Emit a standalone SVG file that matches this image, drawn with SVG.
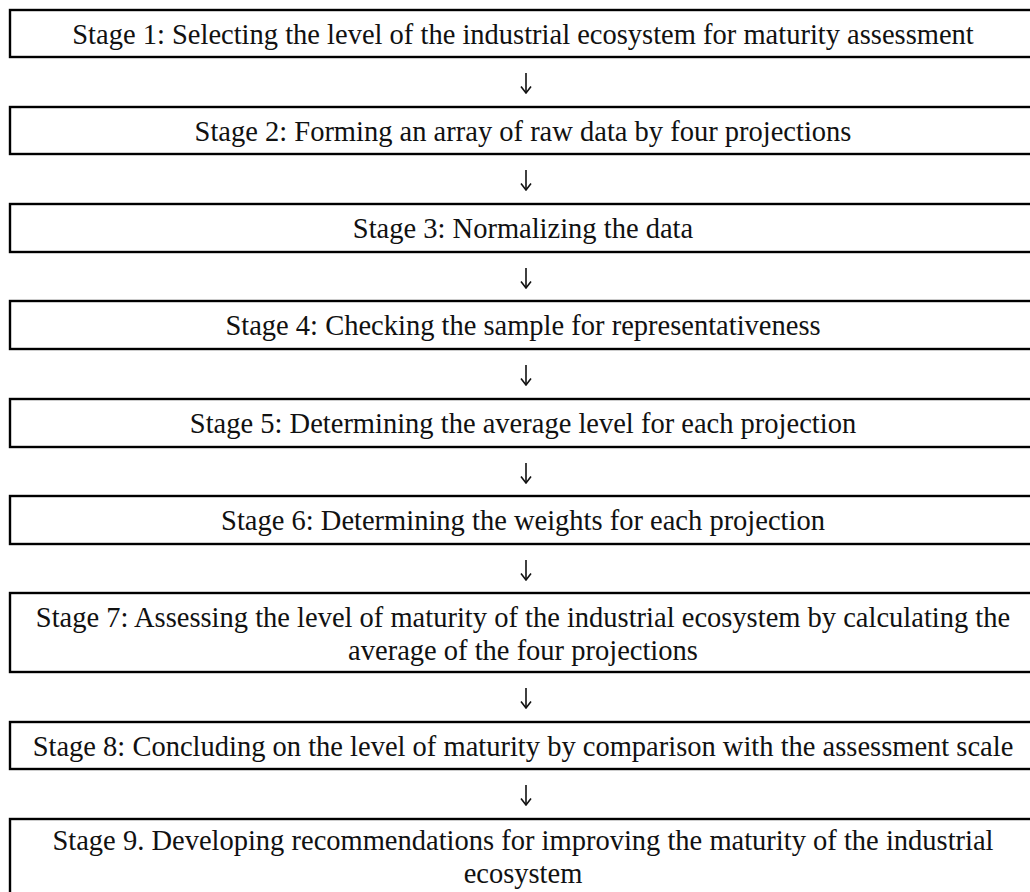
<svg xmlns="http://www.w3.org/2000/svg" width="1030" height="892" viewBox="0 0 1030 892">
  <style>
    .box { fill: #ffffff; stroke: #000000; stroke-width: 2.4; }
    .lbl { font-family: "Liberation Serif", "DejaVu Serif", serif; font-size: 28.5px; fill: #111111; text-anchor: middle; }
    .flow { stroke: #111111; stroke-width: 1.6; fill: none; }
  </style>
  <defs>
    <!-- open V arrowhead, drawn pointing along +x so orient="auto" turns it with the line -->
    <marker id="head" viewBox="0 0 10 12" refX="9" refY="6" markerWidth="10" markerHeight="12" markerUnits="userSpaceOnUse" orient="auto">
      <path d="M2.5,1 L9,6 L2.5,11" fill="none" stroke="#111111" stroke-width="1.6"/>
    </marker>
  </defs>
  <rect width="1030" height="892" fill="#ffffff"/>

  <g id="stage1">
    <rect class="box" x="10" y="10" width="1026" height="47"/>
    <text class="lbl" x="523" y="44">Stage 1: Selecting the level of the industrial ecosystem for maturity assessment</text>
  </g>
  <g id="stage2">
    <rect class="box" x="10" y="107" width="1026" height="47"/>
    <text class="lbl" x="523" y="141">Stage 2: Forming an array of raw data by four projections</text>
  </g>
  <g id="stage3">
    <rect class="box" x="10" y="204" width="1026" height="48"/>
    <text class="lbl" x="523" y="238">Stage 3: Normalizing the data</text>
  </g>
  <g id="stage4">
    <rect class="box" x="10" y="301" width="1026" height="48"/>
    <text class="lbl" x="523" y="335">Stage 4: Checking the sample for representativeness</text>
  </g>
  <g id="stage5">
    <rect class="box" x="10" y="399" width="1026" height="48"/>
    <text class="lbl" x="523" y="433">Stage 5: Determining the average level for each projection</text>
  </g>
  <g id="stage6">
    <rect class="box" x="10" y="496" width="1026" height="48"/>
    <text class="lbl" x="523" y="530">Stage 6: Determining the weights for each projection</text>
  </g>
  <g id="stage7">
    <rect class="box" x="10" y="593" width="1026" height="79"/>
    <text class="lbl" x="523" y="627">Stage 7: Assessing the level of maturity of the industrial ecosystem by calculating the</text>
    <text class="lbl" x="523" y="660">average of the four projections</text>
  </g>
  <g id="stage8">
    <rect class="box" x="10" y="722" width="1026" height="47"/>
    <text class="lbl" x="523" y="756">Stage 8: Concluding on the level of maturity by comparison with the assessment scale</text>
  </g>
  <g id="stage9">
    <rect class="box" x="10" y="819" width="1026" height="90"/>
    <text class="lbl" x="523" y="850">Stage 9. Developing recommendations for improving the maturity of the industrial</text>
    <text class="lbl" x="523" y="883">ecosystem</text>
  </g>

  <g id="connectors">
    <line class="flow" x1="526" y1="73" x2="526" y2="93" marker-end="url(#head)"/>
    <line class="flow" x1="526" y1="170" x2="526" y2="190" marker-end="url(#head)"/>
    <line class="flow" x1="526" y1="268" x2="526" y2="288" marker-end="url(#head)"/>
    <line class="flow" x1="526" y1="365" x2="526" y2="385" marker-end="url(#head)"/>
    <line class="flow" x1="526" y1="463" x2="526" y2="483" marker-end="url(#head)"/>
    <line class="flow" x1="526" y1="560" x2="526" y2="580" marker-end="url(#head)"/>
    <line class="flow" x1="526" y1="688" x2="526" y2="708" marker-end="url(#head)"/>
    <line class="flow" x1="526" y1="785" x2="526" y2="805" marker-end="url(#head)"/>
  </g>
</svg>
